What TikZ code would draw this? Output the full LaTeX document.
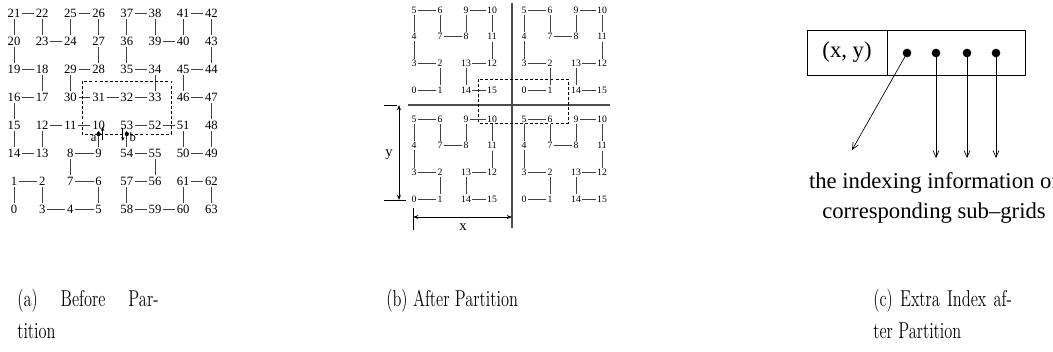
\documentclass[tikz,border=0pt]{standalone}
\usepackage{fontspec}
\usepackage{graphicx}
\usepackage{tikz}
\usetikzlibrary{arrows.meta,positioning,calc}
\newfontfamily\timesfont{Liberation Serif}[Ligatures=TeX]
\newcommand{\tallcap}[1]{\scalebox{1}[1.4]{#1}}

\begin{document}
\begin{tikzpicture}[x=0.75pt,y=-0.75pt,
		anum/.style={inner sep=1.2pt, font=\timesfont\fontsize{9.5}{10}\selectfont},
		bnum/.style={inner sep=1pt, font=\timesfont\fontsize{7.3}{8}\selectfont},
		link/.style={line width=0.5pt, black!75},
		axis/.style={line width=0.8pt, black!70},
		part/.style={dash pattern=on 2.2pt off 1.6pt, line width=0.6pt},
		dot/.style={circle, fill, inner sep=0pt, minimum size=6.5pt},
		ptr/.style={-{Straight Barb[length=5pt,width=4.5pt]}, line width=0.5pt},
		caption/.style={anchor=north west, align=left, inner sep=0pt, font=\fontsize{12.3}{24}\selectfont}]
	\useasboundingbox (0,0) rectangle (1053,352);
	
	% (a) the whole grid
	\foreach \n [count=\k from 0] in {21,22,25,26,37,38,41,42,20,23,24,27,36,39,40,43,19,18,29,28,35,34,45,44,16,17,30,31,32,33,46,47,15,12,11,10,53,52,51,48,14,13,8,9,54,55,50,49,1,2,7,6,57,56,61,62,0,3,4,5,58,59,60,63}{
		\pgfmathtruncatemacro\col{mod(\k,8)}
		\pgfmathtruncatemacro\row{div(\k,8)}
		\node[anum] (a\n) at (14+28.2*\col, 13+28*\row) {\n};
	}
	\foreach \n [evaluate=\n as \m using int(\n+1)] in {0,...,62}
		\draw[link] (a\n) -- (a\m);
	
	\coordinate (anw) at (82,81);
	\coordinate (ase) at (171,134);
	\draw[part] (anw) rectangle (ase);
	\fill (a10 |- ase) circle (1.6pt);
	\fill (a53 |- ase) circle (1.6pt);
	\node[anum] (la) at ($(a10 |- ase)+(-5,5)$) {a};
	\node[anum] (lb) at ($(a53 |- ase)+(6,3)$) {b};
	\coordinate (ta) at ($(a10 |- ase)+(4,6)$);
	\coordinate (ha) at ($(a10 |- ase)+(4,-7)$);
	\coordinate (tb) at ($(a53 |- ase)+(-4,-6)$);
	\coordinate (hb) at ($(a53 |- ase)+(-4,7)$);
	\draw[-{Stealth[length=3pt,width=2.5pt]}, line width=0.5pt] (ta) -- (ha);
	\draw[-{Stealth[length=3pt,width=2.5pt]}, line width=0.5pt] (tb) -- (hb);
	
	% (b) four sub-grids
	\foreach \dx/\dy/\q in {0/0/tl,110/0/tr,0/109/bl,110/109/br}{
		\foreach \n [count=\k from 0] in {5,6,9,10,4,7,8,11,3,2,13,12,0,1,14,15}{
			\pgfmathtruncatemacro\col{mod(\k,4)}
			\pgfmathtruncatemacro\row{div(\k,4)}
			\node[bnum] (\q\n) at (414+\dx+26*\col, 10+\dy+26.7*\row) {\n};
		}
		\foreach \n [evaluate=\n as \m using int(\n+1)] in {0,...,14}
			\draw[link] (\q\n) -- (\q\m);
	}
	
	\coordinate (hl) at (408,105);
	\coordinate (hr) at (610,105);
	\coordinate (vt) at (512,3);
	\coordinate (vb) at (512,228);
	\draw[axis] (hl) -- (hr);
	\draw[axis] (vt) -- (vb);
	
	\coordinate (bnw) at (478,79);
	\coordinate (bse) at (568,123);
	\draw[part] (bnw) rectangle (bse);
	
	% dimensions
	\coordinate (yt1) at (384,105);
	\coordinate (yt2) at (397,105);
	\coordinate (yb1) at (384,200);
	\coordinate (yb2) at (406,200);
	\draw[line width=0.6pt] (yt1) -- (yt2);
	\draw[line width=0.6pt] (yb1) -- (yb2);
	\draw[{Stealth[length=4pt,width=3pt]}-{Stealth[length=4pt,width=3pt]}, line width=0.6pt] (yt1 -| 399,0) -- (yb1 -| 399,0);
	\node[font=\timesfont\fontsize{11}{12}\selectfont] (ly) at (389,155) {y};
	
	\coordinate (xe1) at (413,208);
	\coordinate (xe2) at (413,230);
	\draw[line width=0.6pt] (xe1) -- (xe2);
	\draw[{Stealth[length=4pt,width=3pt]}-{Stealth[length=4pt,width=3pt]}, line width=0.6pt] (413,217) -- (vb |- 0,217);
	\node[font=\timesfont\fontsize{11}{12}\selectfont] (lx) at (463,227) {x};
	
	% (c) extra index
	\node[draw, line width=0.5pt, minimum width=60pt, minimum height=33.75pt, inner sep=0pt, font=\timesfont\fontsize{17}{18}\selectfont] (key) at (847,52.5) {(x, y)};
	\node[draw, line width=0.5pt, minimum width=103.5pt, minimum height=33.75pt, inner sep=0pt, right=0pt of key] (ptrs) {};
	\foreach \i/\x in {1/907,2/936,3/967,4/996}
		\node[dot] (d\i) at (\x,53) {};
	\coordinate (e1) at (852,150);
	\coordinate (e2) at (936,158);
	\coordinate (e3) at (967,158);
	\coordinate (e4) at (996,158);
	\foreach \i in {1,...,4}
		\draw[ptr] (d\i.center) -- (e\i);
	\node[align=center, inner sep=0pt, font=\timesfont\fontsize{17}{22.5}\selectfont] (info) at (934,198) {the indexing information of\\corresponding sub--grids};
	
	% captions
	\node[caption] (capa) at (17,289) {\tallcap{\makebox[106pt][s]{(a) Before Par-}}\\\tallcap{tition}};
	\node[caption] (capb) at (386,289) {\tallcap{(b) After Partition}};
	\node[caption] (capc) at (873,289) {\tallcap{\makebox[104pt][s]{(c) Extra Index af-}}\\\tallcap{ter Partition}};
\end{tikzpicture}
\end{document}
